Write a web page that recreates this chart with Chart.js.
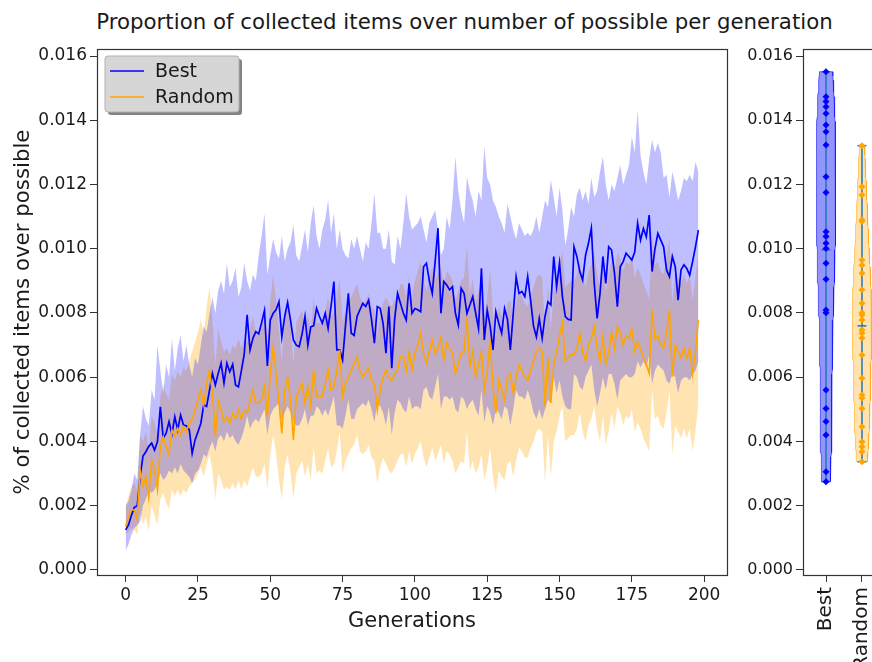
<!DOCTYPE html>
<html><head><meta charset="utf-8">
<script src="https://cdn.jsdelivr.net/npm/chart.js@4.4.1/dist/chart.umd.min.js"></script>
<style>
html,body{margin:0;padding:0;background:#fff;overflow:hidden;width:872px;height:662px;}
#title{position:absolute;left:0;top:9px;width:929px;text-align:center;font-family:"DejaVu Sans",sans-serif;font-size:21.3px;line-height:26px;color:#1a1a1a;white-space:nowrap;}
#c1{position:absolute;left:0;top:0;}
#wrap2{position:absolute;left:735px;top:0;width:137px;height:662px;overflow:hidden;}
#c2{position:absolute;left:0;top:0;}
</style></head><body>
<div id="title">Proportion of collected items over number of possible per generation</div>
<canvas id="c1" width="735" height="662"></canvas>
<div id="wrap2"><canvas id="c2" width="160" height="662"></canvas></div>
<script>
// ---------- data ----------
const seriesNames = ['Best', 'Random'];
const generations = Array.from({length: 199}, (_, i) => i);
const xTickValues = [0, 25, 50, 75, 100, 125, 150, 175, 200];
const yTickValues = [0, 0.002, 0.004, 0.006, 0.008, 0.010, 0.012, 0.014, 0.016];
const violinLabels = ['Best', 'Random'];

const bestMean = [
0.00125,0.00140,0.00170,0.00195,0.00200,0.00290,0.00355,0.00368,0.00385,0.00395,
0.00373,0.00400,0.00508,0.00410,0.00426,0.00462,0.00423,0.00477,0.00436,0.00482,
0.00451,0.00449,0.00436,0.00363,0.00405,0.00430,0.00457,0.00514,0.00509,0.00560,
0.00612,0.00576,0.00612,0.00644,0.00582,0.00644,0.00617,0.00640,0.00576,0.00570,
0.00620,0.00672,0.00794,0.00685,0.00721,0.00742,0.00735,0.00770,0.00808,0.00635,
0.00778,0.00799,0.00810,0.00835,0.00726,0.00790,0.00833,0.00778,0.00716,0.00700,
0.00695,0.00735,0.00789,0.00700,0.00757,0.00760,0.00815,0.00789,0.00768,0.00799,
0.00752,0.00820,0.00898,0.00685,0.00685,0.00654,0.00760,0.00861,0.00737,0.00730,
0.00789,0.00810,0.00830,0.00820,0.00840,0.00780,0.00706,0.00820,0.00815,0.00768,
0.00675,0.00820,0.00628,0.00780,0.00861,0.00830,0.00800,0.00778,0.00892,0.00799,
0.00814,0.00810,0.00804,0.00944,0.00955,0.00900,0.00861,0.00960,0.01064,0.00799,
0.00898,0.00887,0.00872,0.00882,0.00800,0.00763,0.00877,0.00861,0.00799,0.00825,
0.00851,0.00800,0.00752,0.00939,0.00716,0.00809,0.00760,0.00685,0.00804,0.00768,
0.00737,0.00814,0.00780,0.00685,0.00799,0.00913,0.00861,0.00867,0.00851,0.00913,
0.00840,0.00760,0.00726,0.00783,0.00721,0.00790,0.00835,0.00825,0.00976,0.00882,
0.00955,0.00851,0.00789,0.00780,0.00778,0.01006,0.00976,0.00929,0.00903,0.00980,
0.01017,0.01064,0.00892,0.00783,0.00861,0.00976,0.00892,0.01006,0.00996,0.00924,
0.00820,0.00944,0.00960,0.00986,0.00976,0.00965,0.00990,0.01079,0.01027,0.01063,
0.01037,0.01105,0.00929,0.01000,0.01048,0.01027,0.01006,0.00934,0.00913,0.00976,
0.00944,0.00840,0.00934,0.00950,0.00939,0.00918,0.00960,0.01006,0.01058];

const bestUpper = [
0.00200,0.00215,0.00250,0.00300,0.00280,0.00420,0.00510,0.00470,0.00450,0.00560,
0.00530,0.00700,0.00620,0.00550,0.00640,0.00600,0.00720,0.00620,0.00690,0.00730,
0.00650,0.00700,0.00640,0.00600,0.00660,0.00640,0.00700,0.00760,0.00740,0.00800,
0.00850,0.00800,0.00870,0.00900,0.00860,0.00955,0.00880,0.00900,0.00940,0.00850,
0.00880,0.00955,0.00900,0.00870,0.00920,0.00900,0.00980,0.01040,0.01110,0.00920,
0.00980,0.01030,0.00990,0.00970,0.01040,0.00960,0.01000,0.01020,0.01074,0.00980,
0.00960,0.01010,0.01060,0.00990,0.01080,0.01136,0.01040,0.01000,0.01060,0.01090,
0.01152,0.01050,0.01110,0.01000,0.01060,0.01000,0.00980,0.00970,0.01030,0.01000,
0.01040,0.01000,0.00960,0.01020,0.01000,0.01080,0.01173,0.01050,0.01050,0.01000,
0.01000,0.01060,0.00960,0.00950,0.01040,0.01000,0.01080,0.01173,0.01100,0.01060,
0.01070,0.01080,0.01100,0.01060,0.01020,0.01080,0.01100,0.01120,0.01060,0.00980,
0.01000,0.01100,0.01060,0.01150,0.01287,0.01180,0.01120,0.01080,0.01224,0.01180,
0.01150,0.01100,0.01180,0.01150,0.01318,0.01220,0.01200,0.01150,0.01130,0.01100,
0.01080,0.01050,0.01140,0.01100,0.01060,0.01030,0.01080,0.01060,0.01040,0.01050,
0.01040,0.01060,0.01100,0.01050,0.01100,0.01150,0.01130,0.01214,0.01160,0.01100,
0.01190,0.01120,0.01010,0.01060,0.01130,0.01100,0.01170,0.01190,0.01150,0.01180,
0.01140,0.01220,0.01160,0.01180,0.01240,0.01287,0.01200,0.01150,0.01200,0.01180,
0.01220,0.01260,0.01200,0.01230,0.01260,0.01349,0.01300,0.01432,0.01290,0.01240,
0.01200,0.01280,0.01339,0.01300,0.01330,0.01300,0.01220,0.01230,0.01160,0.01240,
0.01200,0.01150,0.01180,0.01220,0.01210,0.01230,0.01210,0.01270,0.01240];

const bestLower = [
0.00060,0.00080,0.00110,0.00130,0.00140,0.00150,0.00200,0.00220,0.00250,0.00240,
0.00250,0.00270,0.00300,0.00280,0.00290,0.00310,0.00300,0.00320,0.00300,0.00330,
0.00310,0.00300,0.00290,0.00270,0.00300,0.00310,0.00330,0.00360,0.00350,0.00380,
0.00400,0.00370,0.00410,0.00420,0.00400,0.00430,0.00410,0.00420,0.00400,0.00390,
0.00410,0.00440,0.00480,0.00440,0.00460,0.00470,0.00460,0.00480,0.00500,0.00420,
0.00480,0.00500,0.00510,0.00520,0.00460,0.00490,0.00510,0.00490,0.00460,0.00450,
0.00450,0.00470,0.00500,0.00450,0.00480,0.00480,0.00510,0.00500,0.00480,0.00500,
0.00480,0.00510,0.00540,0.00450,0.00450,0.00440,0.00480,0.00530,0.00470,0.00470,
0.00500,0.00510,0.00520,0.00510,0.00530,0.00500,0.00460,0.00520,0.00510,0.00490,
0.00450,0.00510,0.00420,0.00490,0.00530,0.00520,0.00500,0.00490,0.00540,0.00500,
0.00510,0.00510,0.00500,0.00560,0.00570,0.00540,0.00530,0.00570,0.00610,0.00500,
0.00540,0.00540,0.00530,0.00540,0.00500,0.00490,0.00540,0.00530,0.00500,0.00520,
0.00530,0.00500,0.00480,0.00560,0.00460,0.00510,0.00490,0.00450,0.00500,0.00490,
0.00470,0.00510,0.00500,0.00450,0.00500,0.00560,0.00540,0.00540,0.00530,0.00560,
0.00530,0.00490,0.00470,0.00500,0.00470,0.00500,0.00530,0.00520,0.00600,0.00550,
0.00590,0.00540,0.00510,0.00500,0.00500,0.00610,0.00600,0.00570,0.00560,0.00600,
0.00620,0.00640,0.00560,0.00510,0.00550,0.00600,0.00560,0.00610,0.00610,0.00580,
0.00530,0.00590,0.00600,0.00610,0.00600,0.00600,0.00610,0.00650,0.00630,0.00650,
0.00630,0.00670,0.00580,0.00620,0.00640,0.00630,0.00620,0.00590,0.00580,0.00610,
0.00600,0.00550,0.00590,0.00600,0.00600,0.00590,0.00610,0.00620,0.00650];

const randomMean = [
0.00135,0.00166,0.00187,0.00187,0.00156,0.00311,0.00260,0.00290,0.00224,0.00342,
0.00310,0.00249,0.00384,0.00415,0.00384,0.00358,0.00436,0.00415,0.00441,0.00420,
0.00446,0.00430,0.00457,0.00470,0.00498,0.00529,0.00560,0.00514,0.00581,0.00623,
0.00550,0.00415,0.00529,0.00498,0.00462,0.00477,0.00457,0.00488,0.00470,0.00498,
0.00470,0.00498,0.00488,0.00524,0.00560,0.00519,0.00519,0.00530,0.00571,0.00477,
0.00612,0.00695,0.00612,0.00520,0.00425,0.00560,0.00600,0.00530,0.00405,0.00540,
0.00560,0.00581,0.00519,0.00571,0.00509,0.00623,0.00540,0.00540,0.00540,0.00581,
0.00623,0.00560,0.00570,0.00620,0.00685,0.00540,0.00580,0.00600,0.00623,0.00640,
0.00664,0.00620,0.00600,0.00615,0.00630,0.00590,0.00580,0.00498,0.00560,0.00600,
0.00623,0.00600,0.00590,0.00610,0.00623,0.00664,0.00664,0.00620,0.00680,0.00623,
0.00675,0.00700,0.00737,0.00675,0.00644,0.00680,0.00716,0.00675,0.00690,0.00726,
0.00654,0.00706,0.00690,0.00675,0.00612,0.00640,0.00675,0.00680,0.00789,0.00633,
0.00680,0.00602,0.00640,0.00680,0.00560,0.00620,0.00716,0.00571,0.00488,0.00591,
0.00560,0.00529,0.00600,0.00610,0.00550,0.00600,0.00640,0.00620,0.00600,0.00590,
0.00620,0.00650,0.00680,0.00690,0.00680,0.00508,0.00660,0.00520,0.00640,0.00680,
0.00730,0.00768,0.00650,0.00660,0.00670,0.00670,0.00690,0.00737,0.00680,0.00650,
0.00700,0.00720,0.00757,0.00690,0.00650,0.00727,0.00640,0.00680,0.00740,0.00690,
0.00757,0.00740,0.00700,0.00730,0.00720,0.00750,0.00680,0.00710,0.00690,0.00660,
0.00640,0.00612,0.00809,0.00720,0.00730,0.00700,0.00690,0.00740,0.00809,0.00602,
0.00700,0.00680,0.00660,0.00690,0.00660,0.00690,0.00610,0.00680,0.00778];

const randomUpper = [
0.00200,0.00230,0.00260,0.00270,0.00250,0.00420,0.00400,0.00430,0.00380,0.00480,
0.00460,0.00420,0.00540,0.00580,0.00550,0.00530,0.00610,0.00590,0.00620,0.00600,
0.00630,0.00620,0.00650,0.00680,0.00710,0.00740,0.00780,0.00730,0.00820,0.00882,
0.00780,0.00640,0.00750,0.00710,0.00680,0.00690,0.00670,0.00700,0.00690,0.00720,
0.00690,0.00720,0.00710,0.00750,0.00790,0.00740,0.00740,0.00760,0.00800,0.00700,
0.00840,0.00920,0.00840,0.00750,0.00650,0.00790,0.00830,0.00760,0.00640,0.00770,
0.00790,0.00810,0.00750,0.00800,0.00740,0.00850,0.00770,0.00770,0.00770,0.00810,
0.00850,0.00790,0.00800,0.00850,0.00910,0.00770,0.00810,0.00830,0.00850,0.00870,
0.00890,0.00850,0.00830,0.00840,0.00860,0.00820,0.00810,0.00730,0.00790,0.00830,
0.00850,0.00830,0.00820,0.00840,0.00850,0.00890,0.00890,0.00850,0.00910,0.00850,
0.00900,0.00930,0.00960,0.00900,0.00870,0.00910,0.00940,0.00900,0.00920,0.00950,
0.00880,0.00930,0.00920,0.00900,0.00840,0.00870,0.00900,0.00910,0.01010,0.00860,
0.00910,0.00830,0.00870,0.00910,0.00790,0.00850,0.00940,0.00800,0.00720,0.00820,
0.00790,0.00760,0.00830,0.00840,0.00780,0.00830,0.00870,0.00850,0.00830,0.00820,
0.00850,0.00880,0.00910,0.00920,0.00910,0.00740,0.00890,0.00750,0.00870,0.00910,
0.00960,0.00990,0.00880,0.00890,0.00900,0.00900,0.00920,0.00960,0.00910,0.00880,
0.00930,0.00950,0.00990,0.00920,0.00880,0.00960,0.00870,0.00910,0.00970,0.00920,
0.00990,0.00970,0.00930,0.00960,0.00950,0.00980,0.00910,0.00940,0.00920,0.00890,
0.00870,0.00840,0.01040,0.00950,0.00960,0.00930,0.00920,0.00970,0.01040,0.00830,
0.00930,0.00910,0.00890,0.00920,0.00890,0.00920,0.00840,0.00910,0.01000];

const randomLower = [
0.00110,0.00120,0.00130,0.00125,0.00110,0.00180,0.00140,0.00165,0.00120,0.00200,
0.00170,0.00140,0.00220,0.00240,0.00210,0.00190,0.00250,0.00230,0.00250,0.00230,
0.00250,0.00240,0.00260,0.00270,0.00280,0.00300,0.00320,0.00290,0.00330,0.00360,
0.00310,0.00220,0.00300,0.00280,0.00250,0.00260,0.00250,0.00270,0.00250,0.00280,
0.00250,0.00280,0.00260,0.00290,0.00320,0.00290,0.00290,0.00300,0.00330,0.00250,
0.00360,0.00420,0.00360,0.00280,0.00220,0.00320,0.00360,0.00300,0.00220,0.00300,
0.00320,0.00340,0.00290,0.00330,0.00280,0.00380,0.00300,0.00310,0.00300,0.00340,
0.00380,0.00320,0.00330,0.00370,0.00430,0.00300,0.00340,0.00360,0.00380,0.00390,
0.00420,0.00370,0.00360,0.00370,0.00390,0.00350,0.00340,0.00270,0.00320,0.00350,
0.00330,0.00310,0.00300,0.00320,0.00340,0.00360,0.00360,0.00320,0.00370,0.00330,
0.00360,0.00380,0.00400,0.00350,0.00320,0.00350,0.00380,0.00340,0.00360,0.00390,
0.00330,0.00370,0.00360,0.00340,0.00300,0.00320,0.00340,0.00330,0.00430,0.00310,
0.00340,0.00300,0.00320,0.00360,0.00280,0.00320,0.00380,0.00290,0.00240,0.00310,
0.00290,0.00280,0.00330,0.00340,0.00290,0.00340,0.00380,0.00370,0.00350,0.00350,
0.00380,0.00400,0.00430,0.00440,0.00430,0.00270,0.00420,0.00290,0.00400,0.00430,
0.00480,0.00510,0.00400,0.00410,0.00420,0.00420,0.00440,0.00490,0.00430,0.00400,
0.00450,0.00470,0.00510,0.00440,0.00400,0.00480,0.00390,0.00430,0.00490,0.00440,
0.00510,0.00490,0.00450,0.00480,0.00470,0.00500,0.00430,0.00460,0.00440,0.00410,
0.00390,0.00370,0.00560,0.00470,0.00480,0.00450,0.00440,0.00490,0.00560,0.00360,
0.00450,0.00430,0.00410,0.00440,0.00410,0.00440,0.00370,0.00430,0.00520];

// final-generation samples shown in the violin plot
const bestFinal = [0.01551,0.01473,0.01458,0.01442,0.01421,0.01385,0.01364,0.01323,0.01224,0.01175,
  0.01053,0.01038,0.01017,0.01001,0.00955,0.00905,0.00809,0.00801,0.00560,0.00503,0.00462,0.00420,0.00306,0.00275];
const randomFinal = [0.01321,0.01193,0.01167,0.01090,0.01085,0.00965,0.00949,0.00924,0.00872,0.00830,
  0.00801,0.00794,0.00778,0.00747,0.00737,0.00722,0.00669,0.00597,0.00545,0.00535,0.00503,0.00446,0.00399,0.00384,0.00368,0.00337];

// ---------- style ----------
const FONT = '"DejaVu Sans", sans-serif';
const TXT = '#1a1a1a';
const AX = '#333333';
const BLUE = '#0000ff', ORANGE = '#ffa500';
const Y_MIN = -0.000156, Y_MAX = 0.016218;

const xy = arr => arr.map((v, i) => ({x: generations[i], y: v}));

const frameLegend = {
  id: 'frameLegend',
  afterDatasetsDraw(chart, args, opts) {
    const {ctx, chartArea: a} = chart;
    ctx.save();
    ctx.strokeStyle = AX; ctx.lineWidth = 1.2;
    ctx.strokeRect(a.left + 0.5, a.top + 0.5, a.right - a.left, a.bottom - a.top);
    if (opts.legend) {
      const bx = a.left + 8, by = a.top + 7, bw = 134, bh = 56;
      ctx.fillStyle = 'rgba(90,90,90,0.75)';
      ctx.beginPath(); ctx.roundRect(bx + 3, by + 3, bw, bh, 3); ctx.fill();
      ctx.fillStyle = '#d6d6d6';
      ctx.strokeStyle = '#b0b0b0'; ctx.lineWidth = 1;
      ctx.beginPath(); ctx.roundRect(bx, by, bw, bh, 3); ctx.fill(); ctx.stroke();
      const cols = [BLUE, ORANGE];
      ctx.font = '19px ' + FONT; ctx.textBaseline = 'middle'; ctx.textAlign = 'left';
      seriesNames.forEach((n, i) => {
        const yy = by + 15 + i * 26;
        ctx.strokeStyle = cols[i]; ctx.lineWidth = 1.6;
        ctx.beginPath(); ctx.moveTo(bx + 5, yy); ctx.lineTo(bx + 39, yy); ctx.stroke();
        ctx.fillStyle = TXT; ctx.fillText(n, bx + 50, yy + 1);
      });
    }
    ctx.restore();
  }
};

const tickFont = {family: FONT, size: 17};

new Chart(document.getElementById('c1'), {
  type: 'line',
  data: {
    datasets: [
      {label: 'Best upper', data: xy(bestUpper), fill: '+1', backgroundColor: 'rgba(0,0,255,0.25)', borderWidth: 0, pointRadius: 0, order: 6},
      {label: 'Best lower', data: xy(bestLower), fill: false, borderWidth: 0, pointRadius: 0, order: 6},
      {label: 'Random upper', data: xy(randomUpper), fill: '+1', backgroundColor: 'rgba(255,165,0,0.3)', borderWidth: 0, pointRadius: 0, order: 7},
      {label: 'Random lower', data: xy(randomLower), fill: false, borderWidth: 0, pointRadius: 0, order: 7},
      {label: seriesNames[0], data: xy(bestMean), borderColor: BLUE, borderWidth: 1.7, pointRadius: 0, fill: false, order: 2},
      {label: seriesNames[1], data: xy(randomMean), borderColor: ORANGE, borderWidth: 1.6, pointRadius: 0, fill: false, order: 1}
    ]
  },
  options: {
    responsive: false, animation: false, devicePixelRatio: 1,
    layout: {padding: {top: 49, right: 8, left: 0, bottom: 0}},
    plugins: {legend: {display: false}, tooltip: {enabled: false}, frameLegend: {legend: true}},
    elements: {line: {tension: 0}},
    scales: {
      x: {
        type: 'linear', min: -9.9, max: 207.9, bounds: 'data',
        afterFit: s => { s.height = 87; },
        afterBuildTicks: s => { s.ticks = xTickValues.map(v => ({value: v})); },
        ticks: {font: tickFont, color: TXT, padding: 3, maxRotation: 0, callback: v => String(v)},
        grid: {display: true, drawOnChartArea: false, drawTicks: true, tickLength: 7, color: AX},
        border: {display: false},
        title: {display: true, text: 'Generations', font: {family: FONT, size: 21}, color: TXT, padding: {top: 0, bottom: 28}}
      },
      y: {
        type: 'linear', min: Y_MIN, max: Y_MAX, bounds: 'data',
        afterFit: s => { s.width = 97; },
        afterBuildTicks: s => { s.ticks = yTickValues.map(v => ({value: v})); },
        ticks: {font: tickFont, color: TXT, padding: 3, callback: v => v.toFixed(3)},
        grid: {display: true, drawOnChartArea: false, drawTicks: true, tickLength: 7, color: AX},
        border: {display: false},
        title: {display: true, text: '% of collected items over possible', font: {family: FONT, size: 21.3}, color: TXT, padding: {top: 11, bottom: 0}}
      }
    }
  },
  plugins: [frameLegend]
});

// ---------- violin (KDE, Scott's rule like matplotlib) ----------
function violin(data, pos) {
  const n = data.length;
  const mean = data.reduce((s, v) => s + v, 0) / n;
  const varr = data.reduce((s, v) => s + (v - mean) ** 2, 0) / (n - 1);
  const bw = Math.pow(n, -1 / 5) * Math.sqrt(varr);
  const lo = Math.min(...data), hi = Math.max(...data);
  const ys = [], dens = [];
  for (let k = 0; k < 100; k++) {
    const y = lo + (hi - lo) * k / 99;
    let d = 0;
    for (const v of data) d += Math.exp(-0.5 * ((y - v) / bw) ** 2);
    ys.push(y); dens.push(d);
  }
  const mx = Math.max(...dens);
  const left = ys.map((y, k) => ({x: pos - dens[k] / mx * 0.27, y}));
  const right = ys.map((y, k) => ({x: pos + dens[k] / mx * 0.27, y})).reverse();
  return {body: left.concat(right), lo, hi, mean};
}

const vioSets = [];
const finals = [bestFinal, randomFinal];
const bodyFill = ['rgba(0,0,255,0.42)', 'rgba(255,165,0,0.32)'];
const bodyEdge = ['rgba(0,0,255,0.55)', 'rgba(255,165,0,0.55)'];
const dotCol = [BLUE, ORANGE];
const LINE = '#1f77b4';
finals.forEach((d, i) => {
  const p = i + 1;
  const v = violin(d, p);
  vioSets.push({data: v.body, fill: 'shape', backgroundColor: bodyFill[i], borderColor: bodyEdge[i], borderWidth: 1, pointRadius: 0, order: 10});
  vioSets.push({data: [{x: p, y: v.lo}, {x: p, y: v.hi}], borderColor: LINE, borderWidth: 1.5, pointRadius: 0, fill: false, order: 5});
  [v.lo, v.hi, v.mean].forEach(val => {
    vioSets.push({data: [{x: p - 0.125, y: val}, {x: p + 0.125, y: val}], borderColor: LINE, borderWidth: 1.5, pointRadius: 0, fill: false, order: 5});
  });
  vioSets.push({data: d.map(val => ({x: p, y: val})), showLine: false, pointStyle: 'rectRot', pointRadius: 3.5,
    pointBackgroundColor: dotCol[i], pointBorderColor: dotCol[i], pointBorderWidth: 0, order: 1});
});

new Chart(document.getElementById('c2'), {
  type: 'line',
  data: {datasets: vioSets},
  options: {
    responsive: false, animation: false, devicePixelRatio: 1,
    layout: {padding: {top: 49, right: 10, left: 0, bottom: 0}},
    plugins: {legend: {display: false}, tooltip: {enabled: false}, frameLegend: {legend: false}},
    elements: {line: {tension: 0}},
    scales: {
      x: {
        type: 'linear', min: 0.36, max: 2.64, bounds: 'data',
        afterFit: s => { s.height = 87; },
        afterBuildTicks: s => { s.ticks = [1, 2].map(v => ({value: v})); },
        ticks: {font: {family: FONT, size: 20}, color: TXT, padding: 5, minRotation: 90, maxRotation: 90, callback: v => violinLabels[Math.round(v) - 1]},
        grid: {display: true, drawOnChartArea: false, drawTicks: true, tickLength: 7, color: AX},
        border: {display: false}
      },
      y: {
        type: 'linear', min: Y_MIN, max: Y_MAX, bounds: 'data',
        afterFit: s => { s.width = 68; },
        afterBuildTicks: s => { s.ticks = yTickValues.map(v => ({value: v})); },
        ticks: {font: {family: FONT, size: 16}, color: TXT, padding: 3, callback: v => v.toFixed(3)},
        grid: {display: true, drawOnChartArea: false, drawTicks: true, tickLength: 7, color: AX},
        border: {display: false}
      }
    }
  },
  plugins: [frameLegend]
});
</script>
</body></html>
